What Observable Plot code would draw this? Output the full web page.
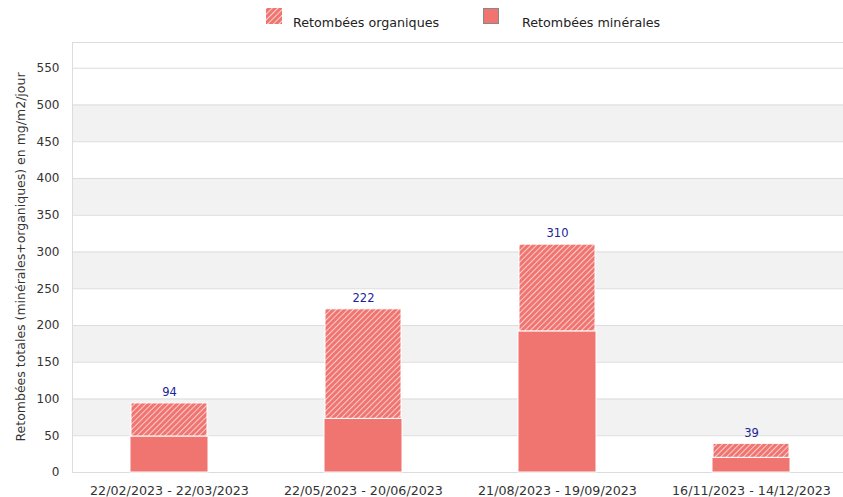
<!DOCTYPE html>
<html>
<head>
<meta charset="utf-8">
<script src="https://cdn.jsdelivr.net/npm/d3@7"></script>
<script src="https://cdn.jsdelivr.net/npm/@observablehq/plot@0.6"></script>
<style>
  html, body { margin: 0; padding: 0; background: #fff; }
  body { width: 843px; height: 497px; overflow: hidden; font-family: "DejaVu Sans", sans-serif; }
  #legend { position: relative; height: 40px; width: 843px; font-size: 12.7px; color: #222; }
  .sw { position: absolute; width: 16px; height: 16px; box-sizing: border-box; }
  .lt { position: absolute; top: 15px; }
  #chart svg { display: block; }
</style>
</head>
<body>
<div id="legend">
  <svg class="sw" style="left:266px; top:8px;" width="16" height="16">
    <defs>
      <pattern id="hatchLeg" patternUnits="userSpaceOnUse" width="4" height="4" patternTransform="rotate(45)">
        <rect width="4" height="4" fill="#f07470"></rect>
        <line x1="0" y1="0" x2="0" y2="4" stroke="#fff" stroke-width="1.4"></line>
      </pattern>
    </defs>
    <rect width="16" height="16" fill="url(#hatchLeg)"></rect>
  </svg>
  <span class="lt" style="left:293px;">Retombées organiques</span>
  <div class="sw" style="left:483px; top:8px; background:#f07470; border:1px solid #888;"></div>
  <span class="lt" style="left:522px;">Retombées minérales</span>
</div>
<div id="chart"></div>
<script>
const periods = ["22/02/2023 - 22/03/2023", "22/05/2023 - 20/06/2023", "21/08/2023 - 19/09/2023", "16/11/2023 - 14/12/2023"];
const totals = [94, 222, 310, 39];
const minerals = [49, 73, 192, 20];
const yTicks = [0, 50, 100, 150, 200, 250, 300, 350, 400, 450, 500, 550];
const yTitle = "Retombées totales (minérales+organiques) en mg/m2/jour";

const rows = periods.map((p, i) => ({period: p, total: totals[i], mineral: minerals[i]}));
const bands = yTicks.slice(0, -1).filter((t, i) => i % 2 === 1).map(t => ({y1: t, y2: t + 50}));
const red = "#f07470";

const plot = Plot.plot({
  width: 843,
  height: 457,
  marginTop: 2,
  marginBottom: 25,
  marginLeft: 72,
  marginRight: 0,
  style: {fontFamily: "DejaVu Sans, sans-serif", fontSize: "12px", color: "#333"},
  x: {domain: periods, range: [72, 848], paddingInner: 0.6, paddingOuter: 0.3, align: 0.5, label: null},
  y: {domain: [0, 585], ticks: yTicks, label: null},
  marks: [
    Plot.rectY(bands, {y1: "y1", y2: "y2", fill: "#f2f2f2"}),
    Plot.gridY(yTicks, {stroke: "#dcdcdc", strokeOpacity: 1, strokeWidth: 1}),
    Plot.frame({stroke: "#dcdcdc", strokeWidth: 1}),
    Plot.barY(rows, {x: "period", y1: 0, y2: "mineral", fill: red, stroke: "#fff", strokeWidth: 1}),
    Plot.barY(rows, {x: "period", y1: "mineral", y2: "total", fill: "url(#hatch)", stroke: "#fff", strokeWidth: 1, insetLeft: 1, insetRight: 1}),
    Plot.text(rows, {x: "period", y: "total", text: d => String(d.total), dy: -11, fill: "#22229a", fontSize: 11.5}),
    Plot.axisY({ticks: yTicks, tickSize: 0, tickPadding: 13, label: null, fontSize: 12}),
    Plot.axisX({tickSize: 0, tickPadding: 13, label: null, fontSize: 12.7})
  ]
});

const ns = "http://www.w3.org/2000/svg";
const defs = document.createElementNS(ns, "defs");
defs.innerHTML = `<pattern id="hatch" patternUnits="userSpaceOnUse" width="4" height="4" patternTransform="rotate(45)">
  <rect width="4" height="4" fill="${red}"></rect>
  <line x1="0" y1="0" x2="0" y2="4" stroke="#fff" stroke-width="1.3"></line>
</pattern>`;
plot.insertBefore(defs, plot.firstChild);

// y-axis title
const t = document.createElementNS(ns, "text");
t.setAttribute("transform", "translate(21,217) rotate(-90)");
t.setAttribute("text-anchor", "middle");
t.setAttribute("dominant-baseline", "middle");
t.setAttribute("font-size", "12.5");
t.setAttribute("fill", "#333");
t.textContent = yTitle;
plot.appendChild(t);

document.getElementById("chart").appendChild(plot);
</script>
</body>
</html>
